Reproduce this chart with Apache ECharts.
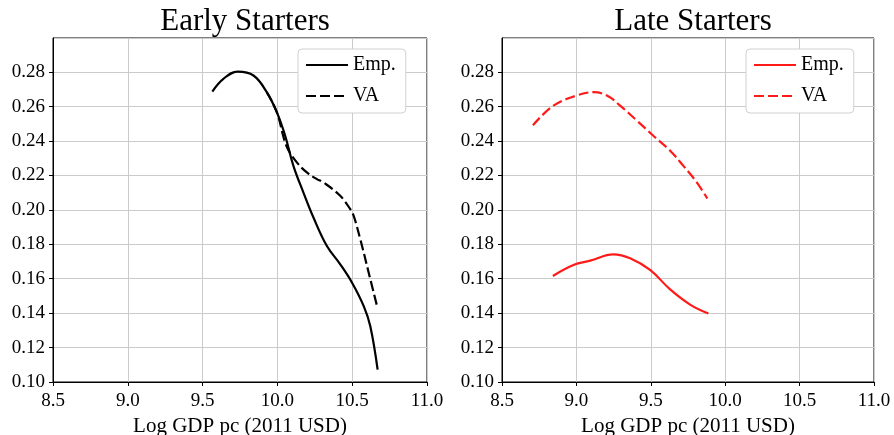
<!DOCTYPE html>
<html><head><meta charset="utf-8">
<script src="https://cdn.jsdelivr.net/npm/echarts@6/dist/echarts.min.js"></script>
<style>html,body{margin:0;padding:0;background:#fff}#c{width:894px;height:435px}</style>
</head><body><div id="c"></div>
<script>
// Early starters
var earlyEmpX = [9.565, 9.639, 9.735, 9.84, 9.929, 9.996, 10.052, 10.107, 10.174, 10.241, 10.331, 10.42, 10.499, 10.577, 10.621, 10.67];
var earlyEmpY = [0.2688, 0.2762, 0.2804, 0.2781, 0.2684, 0.2568, 0.2431, 0.2256, 0.2101, 0.1956, 0.1790, 0.1684, 0.1577, 0.1441, 0.1324, 0.1072];
var earlyVaX = [9.929, 9.996, 10.06, 10.13, 10.197, 10.264, 10.308, 10.42, 10.487, 10.51, 10.554, 10.61, 10.666];
var earlyVaY = [0.2684, 0.2568, 0.2373, 0.2276, 0.2218, 0.2179, 0.2160, 0.2082, 0.2004, 0.1965, 0.1830, 0.1636, 0.1441];
// Late starters
var lateEmpX = [8.842, 8.98, 9.093, 9.249, 9.361, 9.495, 9.63, 9.764, 9.887];
var lateEmpY = [0.1616, 0.1680, 0.1705, 0.1742, 0.1719, 0.1651, 0.1538, 0.1450, 0.1398];
var lateVaX = [8.708, 8.846, 9.003, 9.115, 9.205, 9.294, 9.406, 9.517, 9.63, 9.719, 9.809, 9.88];
var lateVaY = [0.2492, 0.2606, 0.2665, 0.2684, 0.2665, 0.2606, 0.2519, 0.2431, 0.2344, 0.2256, 0.2160, 0.2066];
var titles = ['Early Starters', 'Late Starters'];
var legendNames = ['Emp.', 'VA'];
var xTicks = [8.5, 9.0, 9.5, 10.0, 10.5, 11.0];
var yTicks = [0.10, 0.12, 0.14, 0.16, 0.18, 0.20, 0.22, 0.24, 0.26, 0.28];

function zip(a, b) { return a.map(function (v, i) { return [v, b[i]]; }); }
var FONT = 'Liberation Serif';
var gridColor = '#cbcbcb';

function xAxis(i) {
  return {
    type: 'value', gridIndex: i, min: xTicks[0], max: xTicks[xTicks.length - 1], interval: 0.5,
    name: 'Log GDP pc (2011 USD)', nameLocation: 'middle', nameGap: 30,
    nameTextStyle: { fontFamily: FONT, fontSize: 21, color: '#000', verticalAlign: 'top' },
    axisLine: { show: true, onZero: false, lineStyle: { color: '#000', width: 1 } },
    axisTick: { show: true, length: 4, lineStyle: { color: '#000' } },
    axisLabel: { fontFamily: FONT, fontSize: 19, color: '#000', margin: 10, formatter: function (v) { return v.toFixed(1); } },
    splitLine: { show: true, lineStyle: { color: gridColor, width: 1 } }
  };
}
function yAxis(i) {
  return {
    type: 'value', gridIndex: i, min: yTicks[0], max: 0.2999, interval: 0.02,
    axisLine: { show: true, onZero: false, lineStyle: { color: '#000', width: 1 } },
    axisTick: { show: true, length: 4, lineStyle: { color: '#000' } },
    axisLabel: { fontFamily: FONT, fontSize: 19, color: '#000', margin: 8, showMaxLabel: false,
      formatter: function (v) { return v < 0.295 ? v.toFixed(2) : ''; } },
    splitLine: { show: true, lineStyle: { color: gridColor, width: 1 } }
  };
}
function legend(left, names) {
  return {
    orient: 'vertical', left: left, top: 49, data: names,
    itemWidth: 42, itemHeight: 20, itemGap: 11,
    padding: [6, 10, 7, 7],
    backgroundColor: '#fff', borderColor: '#d0d0d0', borderWidth: 1, borderRadius: 4,
    itemStyle: { opacity: 0 },
    textStyle: { fontFamily: FONT, fontSize: 20, color: '#000' },
    formatter: function (n) { return n.split(' (')[0]; }
  };
}
function line(name, xi, x, y, color, dashed) {
  return {
    type: 'line', name: name, xAxisIndex: xi, yAxisIndex: xi, data: zip(x, y),
    smooth: 0.4, symbol: 'none', showSymbol: false,
    lineStyle: { color: color, width: 2.2, type: dashed ? [10, 4] : 'solid' },
    itemStyle: { color: color }, emphasis: { disabled: true }
  };
}

var chart = echarts.init(document.getElementById('c'), null, { renderer: 'canvas' });
chart.setOption({
  animation: false,
  backgroundColor: '#fff',
  title: [
    { text: titles[0], left: 240, top: 1, textAlign: 'center', textStyle: { fontFamily: FONT, fontSize: 31, fontWeight: 'normal', color: '#000' } },
    { text: titles[1], left: 688, top: 1, textAlign: 'center', textStyle: { fontFamily: FONT, fontSize: 31, fontWeight: 'normal', color: '#000' } }
  ],
  grid: [
    { left: 53, right: 467, top: 38, bottom: 53, outerBoundsMode: 'none', containLabel: false, show: true, borderColor: '#000', borderWidth: 1 },
    { left: 502, right: 20, top: 38, bottom: 53, outerBoundsMode: 'none', containLabel: false, show: true, borderColor: '#000', borderWidth: 1 }
  ],
  xAxis: [xAxis(0), xAxis(1)],
  yAxis: [yAxis(0), yAxis(1)],
  legend: [
    legend(298, [legendNames[0], legendNames[1]]),
    legend(746, [legendNames[0] + ' (late)', legendNames[1] + ' (late)'])
  ],
  series: [
    line(legendNames[0], 0, earlyEmpX, earlyEmpY, '#000', false),
    line(legendNames[1], 0, earlyVaX, earlyVaY, '#000', true),
    line(legendNames[0] + ' (late)', 1, lateEmpX, lateEmpY, '#ff1a1a', false),
    line(legendNames[1] + ' (late)', 1, lateVaX, lateVaY, '#ff1a1a', true)
  ]
});
</script></body></html>
